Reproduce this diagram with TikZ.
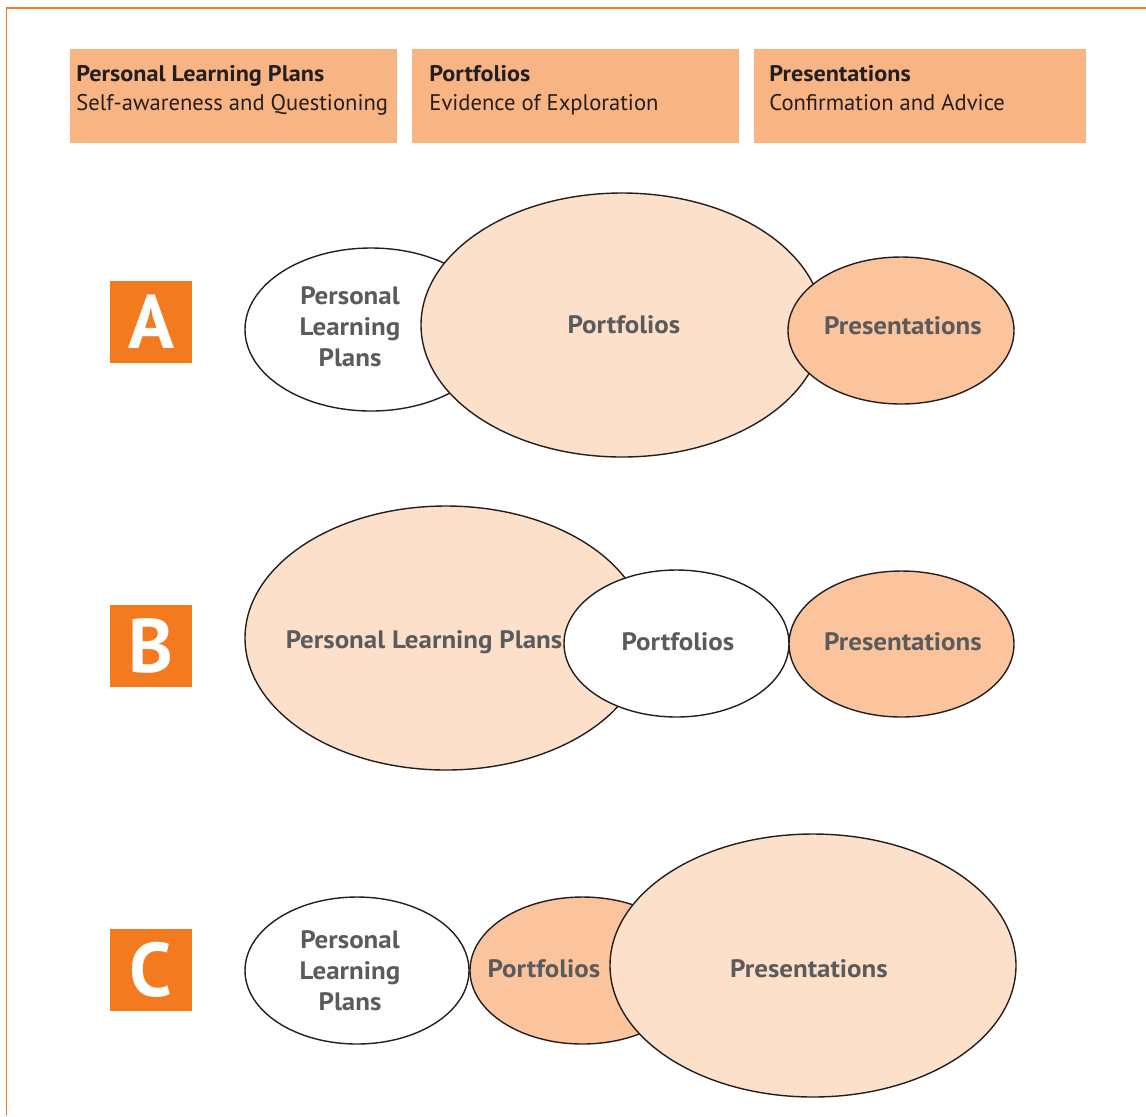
\documentclass[tikz,border=0pt]{standalone}
\usepackage{fontspec}
\setmainfont{PT Sans}
\newfontfamily\widefont{PT Sans}[FakeStretch=1.07]
\usetikzlibrary{shapes.geometric}

\definecolor{frame}{HTML}{F47A20}
\definecolor{headfill}{HTML}{F9B484}
\definecolor{pale}{HTML}{FDE0C9}
\definecolor{peach}{HTML}{FCC49C}
\definecolor{outline}{HTML}{231F20}
\definecolor{grey}{HTML}{5A5B5D}

\newcommand{\headline}[1]{{\widefont\bfseries #1}}

\tikzset{
  headbox/.style={rectangle, fill=headfill, inner sep=0pt, minimum width=163.5pt, minimum height=47pt, anchor=north west},
  headtext/.style={anchor=north west, inner sep=0pt, align=left, text=outline, font=\fontsize{11.3}{14.5}\selectfont},
  tag/.style={rectangle, fill=frame, text=white, inner sep=0pt, minimum size=41pt, font=\fontsize{38}{38}\selectfont\bfseries},
  blob/.style={ellipse, draw=outline, line width=0.7pt, inner sep=0pt},
  lbl/.style={align=center, text=grey, inner sep=0pt, font=\fontsize{12.6}{15.5}\widefont\bfseries}
}

\begin{document}
\begin{tikzpicture}[x=0.5pt, y=-0.5pt]

\useasboundingbox (0,0) rectangle (1146,1116);
\draw [frame, line width=0.75pt]   (1146,8) -- (6.5,8) -- (6.5,1116);

% header row
\node [headbox] (head-plp) at (70,49) {};
\node [headtext] (head-plp-text) at ([shift={(6,16)}]head-plp.north west) {\headline{Personal Learning Plans}\\Self-awareness and Questioning};

\node [headbox] (head-port) at (412,49) {};
\node [headtext] (head-port-text) at ([shift={(17,16)}]head-port.north west) {\headline{Portfolios}\\Evidence of Exploration};

\node [headbox, minimum width=166pt] (head-pres) at (754,49) {};
\node [headtext] (head-pres-text) at ([shift={(15,16)}]head-pres.north west) {\headline{Presentations}\\Confirmation and Advice};

% A
\node [tag] (tag-a) at (151,321.5) {A};
\node [blob, fill=white, minimum width=126pt, minimum height=81.5pt] (a-plp) at (371,329.5) {};
\node [blob, fill=pale, minimum width=201pt, minimum height=132pt] (a-port) at (622,325) {};
\node [blob, fill=peach, minimum width=113pt, minimum height=73.5pt] (a-pres) at (901,330.5) {};
\node [lbl] (a-plp-text) at (350,327) {Personal\\Learning\\Plans};
\node [lbl] (a-port-text) at (624,325) {Portfolios};
\node [lbl] (a-pres-text) at (903,326) {Presentations};

% B
\node [tag] (tag-b) at (151,645.5) {B};
\node [blob, fill=pale, minimum width=201pt, minimum height=132pt] (b-plp) at (446,638) {};
\node [blob, fill=white, minimum width=112.5pt, minimum height=73.5pt] (b-port) at (676.5,643.5) {};
\node [blob, fill=peach, minimum width=112.5pt, minimum height=73pt] (b-pres) at (901.5,644) {};
\node [lbl] (b-plp-text) at (424,642) {Personal Learning Plans};
\node [lbl] (b-port-text) at (678,642) {Portfolios};
\node [lbl] (b-pres-text) at (903,642) {Presentations};

% C
\node [tag] (tag-c) at (151,969.5) {C};
\node [blob, fill=white, minimum width=112pt, minimum height=73.5pt] (c-plp) at (357,970.5) {};
\node [blob, fill=peach, minimum width=112.5pt, minimum height=73.5pt] (c-port) at (582.5,970.5) {};
\node [blob, fill=pale, minimum width=203pt, minimum height=131.5pt] (c-pres) at (813,965.5) {};
\node [lbl] (c-plp-text) at (350,971) {Personal\\Learning\\Plans};
\node [lbl] (c-port-text) at (544,969) {Portfolios};
\node [lbl] (c-pres-text) at (809,969) {Presentations};

\end{tikzpicture}
\end{document}
